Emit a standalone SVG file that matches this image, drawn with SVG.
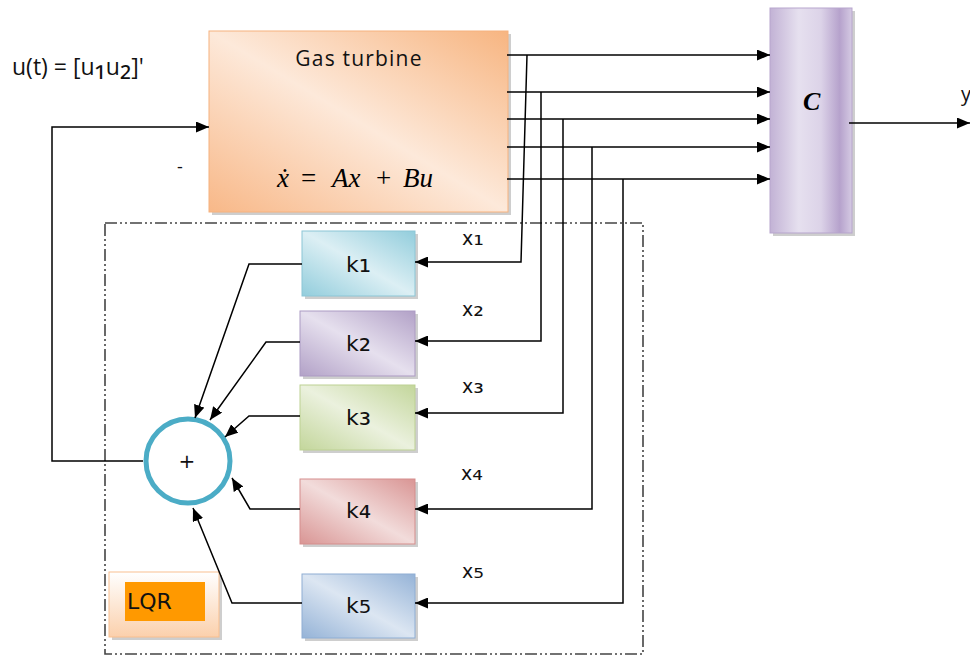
<svg xmlns="http://www.w3.org/2000/svg" width="970" height="657" viewBox="0 0 970 657">
<style>
.ln{fill:none;stroke:#000;stroke-width:1.5}
.arr{marker-end:url(#ah)}
.sh{fill:#a6a6a6;opacity:0.55}
.lbl{font-family:"DejaVu Sans",sans-serif;fill:#111}
.sub{font-size:1.4em}
.calib{font-family:"Open Sans","Liberation Sans",sans-serif;fill:#111}
.math{font-family:"Liberation Serif",serif;font-style:italic;fill:#000}
</style>
<defs>
<marker id="ah" markerUnits="userSpaceOnUse" markerWidth="13" markerHeight="11" refX="13" refY="5.5" orient="auto">
<path d="M0,0 L13,5.5 L0,11 z" fill="#000"/>
</marker>
<linearGradient id="gOr" x1="0" y1="1" x2="1" y2="0">
<stop offset="0" stop-color="#F8B888"/><stop offset="0.5" stop-color="#FDE9DA"/><stop offset="1" stop-color="#F7B581"/>
</linearGradient>
<linearGradient id="gC" x1="0" y1="0" x2="1" y2="0">
<stop offset="0" stop-color="#C2B2D5"/><stop offset="0.35" stop-color="#E6E0EF"/><stop offset="0.62" stop-color="#DCD3E8"/><stop offset="0.85" stop-color="#B6A2CC"/><stop offset="1" stop-color="#D5CAE3"/>
</linearGradient>
<linearGradient id="gK1" x1="0" y1="1" x2="1" y2="0">
<stop offset="0" stop-color="#92CDDC"/><stop offset="0.5" stop-color="#DCEFF4"/><stop offset="1" stop-color="#92CDDC"/>
</linearGradient>
<linearGradient id="gK2" x1="0" y1="1" x2="1" y2="0">
<stop offset="0" stop-color="#B2A1C7"/><stop offset="0.5" stop-color="#E6E0EE"/><stop offset="1" stop-color="#B2A1C7"/>
</linearGradient>
<linearGradient id="gK3" x1="0" y1="1" x2="1" y2="0">
<stop offset="0" stop-color="#C3D69B"/><stop offset="0.5" stop-color="#EBF1DE"/><stop offset="1" stop-color="#C3D69B"/>
</linearGradient>
<linearGradient id="gK4" x1="0" y1="1" x2="1" y2="0">
<stop offset="0" stop-color="#D99594"/><stop offset="0.5" stop-color="#F2DCDB"/><stop offset="1" stop-color="#D99594"/>
</linearGradient>
<linearGradient id="gK5" x1="0" y1="1" x2="1" y2="0">
<stop offset="0" stop-color="#95B3D7"/><stop offset="0.5" stop-color="#DCE6F2"/><stop offset="1" stop-color="#95B3D7"/>
</linearGradient>
<linearGradient id="gLqr" x1="0" y1="0" x2="0" y2="1">
<stop offset="0" stop-color="#FFFFFF"/><stop offset="1" stop-color="#FBD0AC"/>
</linearGradient>
</defs>

<rect width="970" height="657" fill="#fff"/>

<g id="lqr-frame">
<rect x="105" y="223" width="538" height="431" fill="none" stroke="#444" stroke-width="1.6" stroke-dasharray="12 3 2 3 2 3"/>
</g>

<g id="gas-turbine">
<rect class="sh" x="212" y="34" width="299" height="181"/>
<rect x="209" y="31" width="299" height="181" fill="url(#gOr)" stroke="#F6B27E" stroke-width="1"/>
<text class="calib" x="359" y="66" font-size="21" text-anchor="middle" letter-spacing="1.2">Gas turbine</text>
<text class="math" y="187" font-size="27"><tspan x="277">ẋ</tspan><tspan x="301" font-style="normal">=</tspan><tspan x="332">Ax</tspan><tspan x="376" font-style="normal">+</tspan><tspan x="403">Bu</tspan></text>
</g>

<g id="input-label">
<text class="calib" x="12" y="75" font-size="23">u(t) = [u<tspan class="sub">₁</tspan>u<tspan class="sub">₂</tspan>]'</text>
<text class="calib" x="177" y="173" font-size="18">-</text>
</g>

<g id="C-block">
<rect class="sh" x="773" y="11" width="82" height="225"/>
<rect x="770" y="8" width="82" height="225" fill="url(#gC)" stroke="#B7A5CD" stroke-width="1"/>
<text class="math" x="803" y="110" font-size="26" font-weight="bold">C</text>
</g>

<g id="output-label">
<text class="calib" x="961" y="101" font-size="20">y</text>
</g>

<g id="k1">
<rect class="sh" x="305" y="234" width="113" height="65"/>
<rect x="302" y="231" width="113" height="65" fill="url(#gK1)" stroke="#8CC6D6" stroke-width="1"/>
<text class="lbl" x="346" y="272" font-size="22">k<tspan class="sub">₁</tspan></text>
</g>
<g id="k2">
<rect class="sh" x="303" y="314" width="115" height="65"/>
<rect x="300" y="311" width="115" height="65" fill="url(#gK2)" stroke="#AC9BC3" stroke-width="1"/>
<text class="lbl" x="346" y="351" font-size="22">k<tspan class="sub">₂</tspan></text>
</g>
<g id="k3">
<rect class="sh" x="303" y="388" width="115" height="65"/>
<rect x="300" y="385" width="115" height="65" fill="url(#gK3)" stroke="#BDD193" stroke-width="1"/>
<text class="lbl" x="346" y="425" font-size="22">k<tspan class="sub">₃</tspan></text>
</g>
<g id="k4">
<rect class="sh" x="303" y="482" width="115" height="65"/>
<rect x="300" y="479" width="115" height="65" fill="url(#gK4)" stroke="#D58E8D" stroke-width="1"/>
<text class="lbl" x="346" y="518" font-size="22">k<tspan class="sub">₄</tspan></text>
</g>
<g id="k5">
<rect class="sh" x="305" y="577" width="113" height="64"/>
<rect x="302" y="574" width="113" height="64" fill="url(#gK5)" stroke="#8FAED4" stroke-width="1"/>
<text class="lbl" x="346" y="613" font-size="22">k<tspan class="sub">₅</tspan></text>
</g>

<g id="sum">
<circle cx="188" cy="461" r="42" fill="#fff" stroke="#4BACC6" stroke-width="5"/>
<text class="lbl" x="187" y="468" font-size="20" text-anchor="middle">+</text>
</g>

<g id="lqr-label">
<rect class="sh" x="112" y="575" width="110" height="65"/>
<rect x="109" y="572" width="110" height="65" fill="url(#gLqr)" stroke="#F9BF8F" stroke-width="1"/>
<rect x="125" y="582" width="80" height="39" fill="#FF9900"/>
<text class="lbl" x="127" y="609" font-size="22">LQR</text>
</g>

<g id="state-labels">
<text class="lbl" x="462" y="245" font-size="19">x<tspan class="sub">₁</tspan></text>
<text class="lbl" x="462" y="316" font-size="19">x<tspan class="sub">₂</tspan></text>
<text class="lbl" x="462" y="393" font-size="19">x<tspan class="sub">₃</tspan></text>
<text class="lbl" x="461" y="480" font-size="19">x<tspan class="sub">₄</tspan></text>
<text class="lbl" x="462" y="578" font-size="19">x<tspan class="sub">₅</tspan></text>
</g>

<g id="connectors">
<path class="ln arr" d="M507,55 H770"/>
<path class="ln arr" d="M507,92 H770"/>
<path class="ln arr" d="M507,119 H770"/>
<path class="ln arr" d="M507,147 H770"/>
<path class="ln arr" d="M507,179 H770"/>
<path class="ln arr" d="M849,123 H970"/>
<path class="ln arr" d="M527,55 L521,262 H415"/>
<path class="ln arr" d="M541,92 V341 H415"/>
<path class="ln arr" d="M563,119 V413 H415"/>
<path class="ln arr" d="M592,147 V509 H415"/>
<path class="ln arr" d="M623,179 V603 H415"/>
<path class="ln arr" d="M302,264 H249 L195,418"/>
<path class="ln arr" d="M300,342 H266 L210,420"/>
<path class="ln arr" d="M300,416 H249 L225,437"/>
<path class="ln arr" d="M300,509 H250 L232,478"/>
<path class="ln arr" d="M302,603 H232 L193,508"/>
<path class="ln arr" d="M143,461 H52 V127 H209"/>
</g>
</svg>
